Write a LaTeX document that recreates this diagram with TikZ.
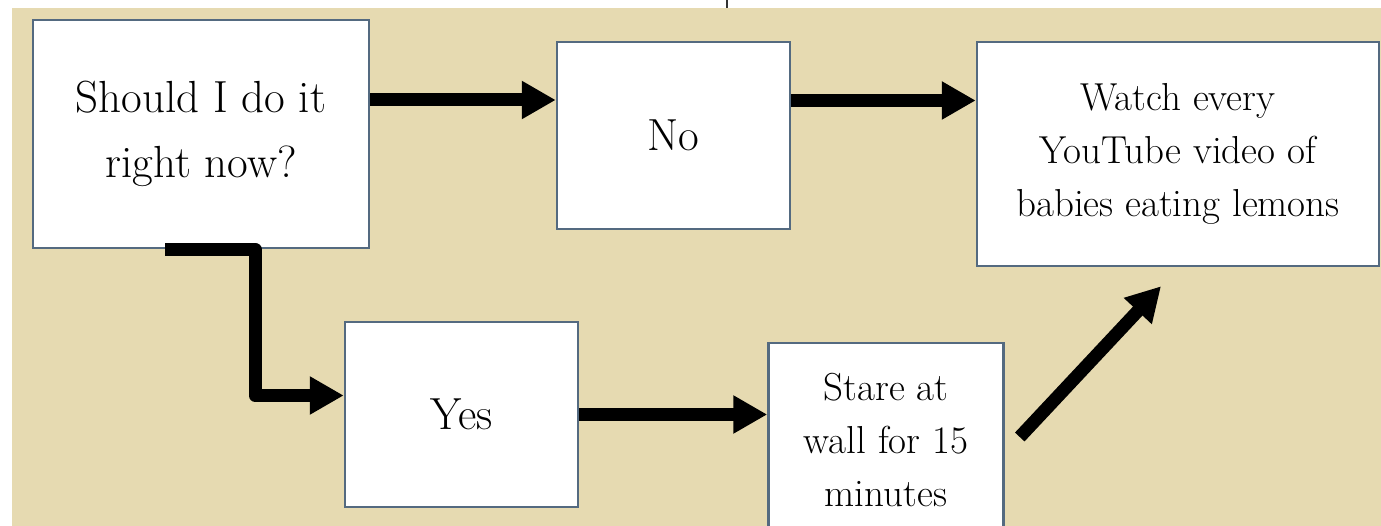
\documentclass[tikz,border=0pt]{standalone}
\usepackage{fontspec}
\usepackage{tikz}
\usetikzlibrary{positioning,arrows.meta,calc}
\usepackage{xcolor}
\definecolor{bgtan}{RGB}{230,218,177}
\definecolor{boxline}{RGB}{84,106,128}
\tikzset{
  box/.style={draw=boxline,fill=white,line width=2.5pt,inner sep=0pt,align=center},
  bigtext/.style={font=\fontsize{45}{65}\selectfont},
  smalltext/.style={font=\fontsize{39}{53}\selectfont},
  >={Triangle[length=34pt,width=36pt]},
  flow/.style={->,line width=13pt,line join=round},
}

\begin{document}
\begin{tikzpicture}[
x=1pt,y=-1pt
]
\clip (0,0) rectangle (1381,526);
\fill[white] (0,0) rectangle (1381,526);
\fill[bgtan] (12,8) rectangle (1381,526);
\draw[line width=1.5pt,black!80] (727,0) -- (727,8);

\node[box,bigtext,minimum width=336pt,minimum height=228pt] (ask) at (201,134) {Should I do it\\right now?};
\node[box,bigtext,minimum width=233pt,minimum height=187pt] (no) at (673.5,135.5) {No};
\node[box,smalltext,minimum width=402pt,minimum height=224pt] (watch) at (1178,154) {Watch every\\YouTube video of\\babies eating lemons};
\node[box,bigtext,minimum width=233pt,minimum height=185pt] (yes) at (461.5,414.5) {Yes};
\node[box,smalltext,minimum width=235pt,minimum height=194pt] (stare) at (886,440) {Stare at\\wall for 15\\minutes};

\draw[flow] ([yshift=34pt]ask.east) -- ([yshift=34pt]ask.east -| no.west);
\draw[flow] ([yshift=35pt]no.east) -- ([yshift=35pt]no.east -| watch.west);
\draw[flow] ([xshift=-36pt]ask.south) -- ([xshift=54pt]ask.south) |- ([yshift=19pt]yes.west);
\draw[flow] (yes.east) -- (yes.east -| stare.west);
\draw[flow] ([xshift=15pt,yshift=3pt]stare.east) -- ([xshift=-17pt,yshift=-19pt]watch.south);
\end{tikzpicture}
\end{document}
